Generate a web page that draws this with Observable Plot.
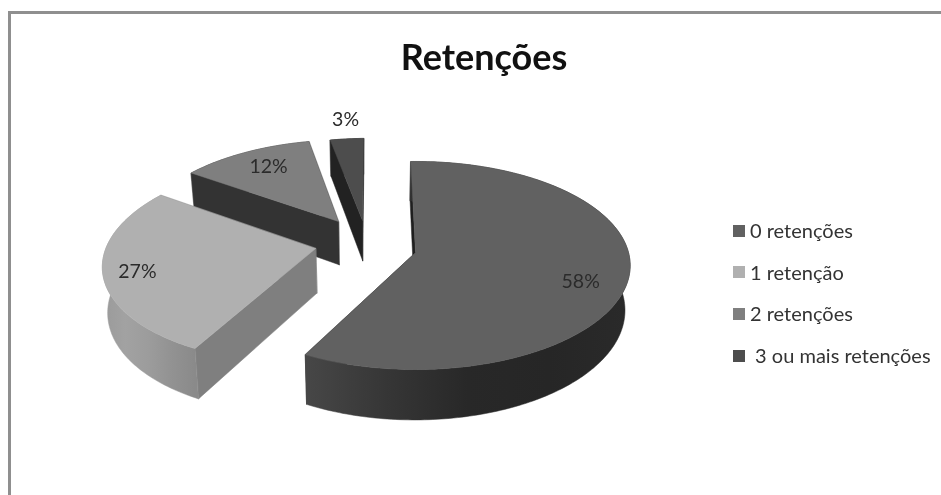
<!DOCTYPE html>
<html lang="pt">
<head>
<meta charset="utf-8">
<title>Retenções</title>
<script src="https://cdn.jsdelivr.net/npm/d3@7"></script>
<script src="https://cdn.jsdelivr.net/npm/@observablehq/plot@0.6"></script>
<style>
  html, body { margin: 0; padding: 0; background: #fff; overflow: hidden; }
  #page { position: relative; width: 941px; height: 495px; overflow: hidden; font-family: Lato, "Open Sans", sans-serif; }
  #frame { position: absolute; left: 8px; top: 11px; width: 960px; height: 520px; border: 3px solid #8f8f8f; box-sizing: border-box; filter: blur(.4px); }
  #chart { position: absolute; left: 0; top: 0; filter: blur(.6px); }
  #chart svg { display: block; background: transparent; }
  #title { position: absolute; left: 0; width: 968px; top: 35px; text-align: center; font-size: 36px; font-weight: 700; color: #111; line-height: 42px; filter: blur(.4px); }
  #legend { position: absolute; left: 733px; top: 210px; font-size: 20px; color: #333; filter: blur(.5px); }
  #legend .row { height: 41.6px; line-height: 41.6px; white-space: pre; display: flex; align-items: center; }
  #legend .sw { width: 12px; height: 12px; margin-right: 5px; flex: none; }
</style>
</head>
<body>
<div id="page">
  <div id="frame"></div>
  <div id="chart"></div>
  <div id="title">Retenções</div>
  <div id="legend"></div>
</div>
<script>
// Chart values
const categories = ["0 retenções", "1 retenção", "2 retenções", " 3 ou mais retenções"];
const percents = [58, 27, 12, 3];
const topColors = ["#616161", "#b0b0b0", "#7f7f7f", "#4d4d4d"];
const cutColors = ["#1f1f1f", "#7f7f7f", "#333333", "#222222"];
// Outer wall shading, left to right in each slice
const wallShades = [
  ["#474747", "#363636", "#282828", "#262626", "#2a2a2a"],
  ["#9a9a9a", "#a2a2a2", "#9c9c9c", "#929292", "#8a8a8a"],
  ["#333333", "#333333", "#333333", "#333333", "#333333"],
  ["#222222", "#222222", "#222222", "#222222", "#222222"]
];
// Explosion of each slice, in units of the pie radius
const offsetU = [0, -0.471, -0.376, -0.259];
const offsetV = [0, -0.039, -0.315, -0.325];
const rimScale = [1, 0.99, 0.96, 0.97];
const depthScale = [0.98, 1, 1, 0.93];
// Label position of each slice: bearing and distance from its apex
const labelAngle = [110, 254.8, 327.7, 353.8];
const labelRadius = [0.797, 0.843, 0.769, 1.27];
const startAngle = -1.4;

// Pie view: perspective over a tilted disc
const view = {cx: 415, cy: 252, rx: 213, ry: 102.4, k: 0.125, depth: 45, xv: 370, shrink: 0.98};
const project = (u, v) => {
  const w = 1 - view.k * v;
  return {x: view.cx + view.rx * u / w, y: view.cy + view.ry * v / w, w};
};
const lowerOf = (i) => (p) => ({
  x: view.xv + (p.x - view.xv) * view.shrink,
  y: p.y + view.depth * depthScale[i] / p.w
});
const rad = (a) => a * Math.PI / 180;
const onRim = (i, a, r = 1) => project(
  offsetU[i] + r * rimScale[i] * Math.sin(rad(a)),
  offsetV[i] - r * rimScale[i] * Math.cos(rad(a))
);

// Slice angle ranges from the percentages
let acc = startAngle;
const slices = percents.map((p, i) => {
  const a0 = acc, a1 = acc + p * 3.6;
  acc = a1;
  return {i, a0, a1};
});

// Polygons, painted back to front
const polys = [];
const add = (id, color, pts) => pts.forEach((p) => polys.push({id, color, x: p.x, y: p.y}));
const gradients = [];
for (const i of [3, 2, 1, 0]) {
  const {a0, a1} = slices[i];
  const lower = lowerOf(i);
  const apex = project(offsetU[i], offsetV[i]);
  for (const a of [a1, a0]) {
    const rim = onRim(i, a);
    add(`c${i}${a}`, cutColors[i], [apex, rim, lower(rim), lower(apex)]);
  }
  const arc = [];
  for (let a = a0; a < a1; a += 1) arc.push(onRim(i, a));
  arc.push(onRim(i, a1));
  gradients.push({
    id: `wall${i}`,
    x1: d3.min(arc, (p) => p.x),
    x2: d3.max(arc, (p) => p.x),
    shades: wallShades[i]
  });
  add(`w${i}`, `url(#wall${i})`, [...arc, ...arc.map(lower).reverse()]);
  add(`t${i}`, topColors[i], [apex, ...arc]);
}

const labels = percents.map((p, i) => {
  const pos = onRim(i, labelAngle[i], labelRadius[i]);
  return {text: `${p}%`, x: pos.x, y: pos.y};
});

const gradientDefs = () => {
  const g = d3.create("svg:g");
  const defs = g.append("defs");
  for (const d of gradients) {
    const lg = defs.append("linearGradient")
      .attr("id", d.id)
      .attr("gradientUnits", "userSpaceOnUse")
      .attr("x1", d.x1).attr("x2", d.x2).attr("y1", 0).attr("y2", 0);
    d.shades.forEach((s, k) => {
      lg.append("stop").attr("offset", k / (d.shades.length - 1)).attr("stop-color", s);
    });
  }
  return g.node();
};

const chart = Plot.plot({
  width: 941,
  height: 495,
  margin: 0,
  x: {domain: [0, 941], axis: null},
  y: {domain: [495, 0], axis: null},
  color: {type: "identity"},
  marks: [
    gradientDefs,
    Plot.line(polys, {
      x: "x", y: "y", z: "id",
      fill: "color", stroke: "color", strokeWidth: 0.5,
      curve: "linear-closed"
    }),
    Plot.text(labels, {
      x: "x", y: "y", text: "text",
      fontSize: 19.5, fontFamily: "Lato, 'Open Sans', sans-serif", fill: "#2b2b2b"
    })
  ]
});
document.getElementById("chart").append(chart);

const legend = document.getElementById("legend");
categories.forEach((c, i) => {
  const row = document.createElement("div");
  row.className = "row";
  const sw = document.createElement("span");
  sw.className = "sw";
  sw.style.background = topColors[i];
  const tx = document.createElement("span");
  tx.textContent = c;
  row.append(sw, tx);
  legend.append(row);
});
</script>
</body>
</html>
